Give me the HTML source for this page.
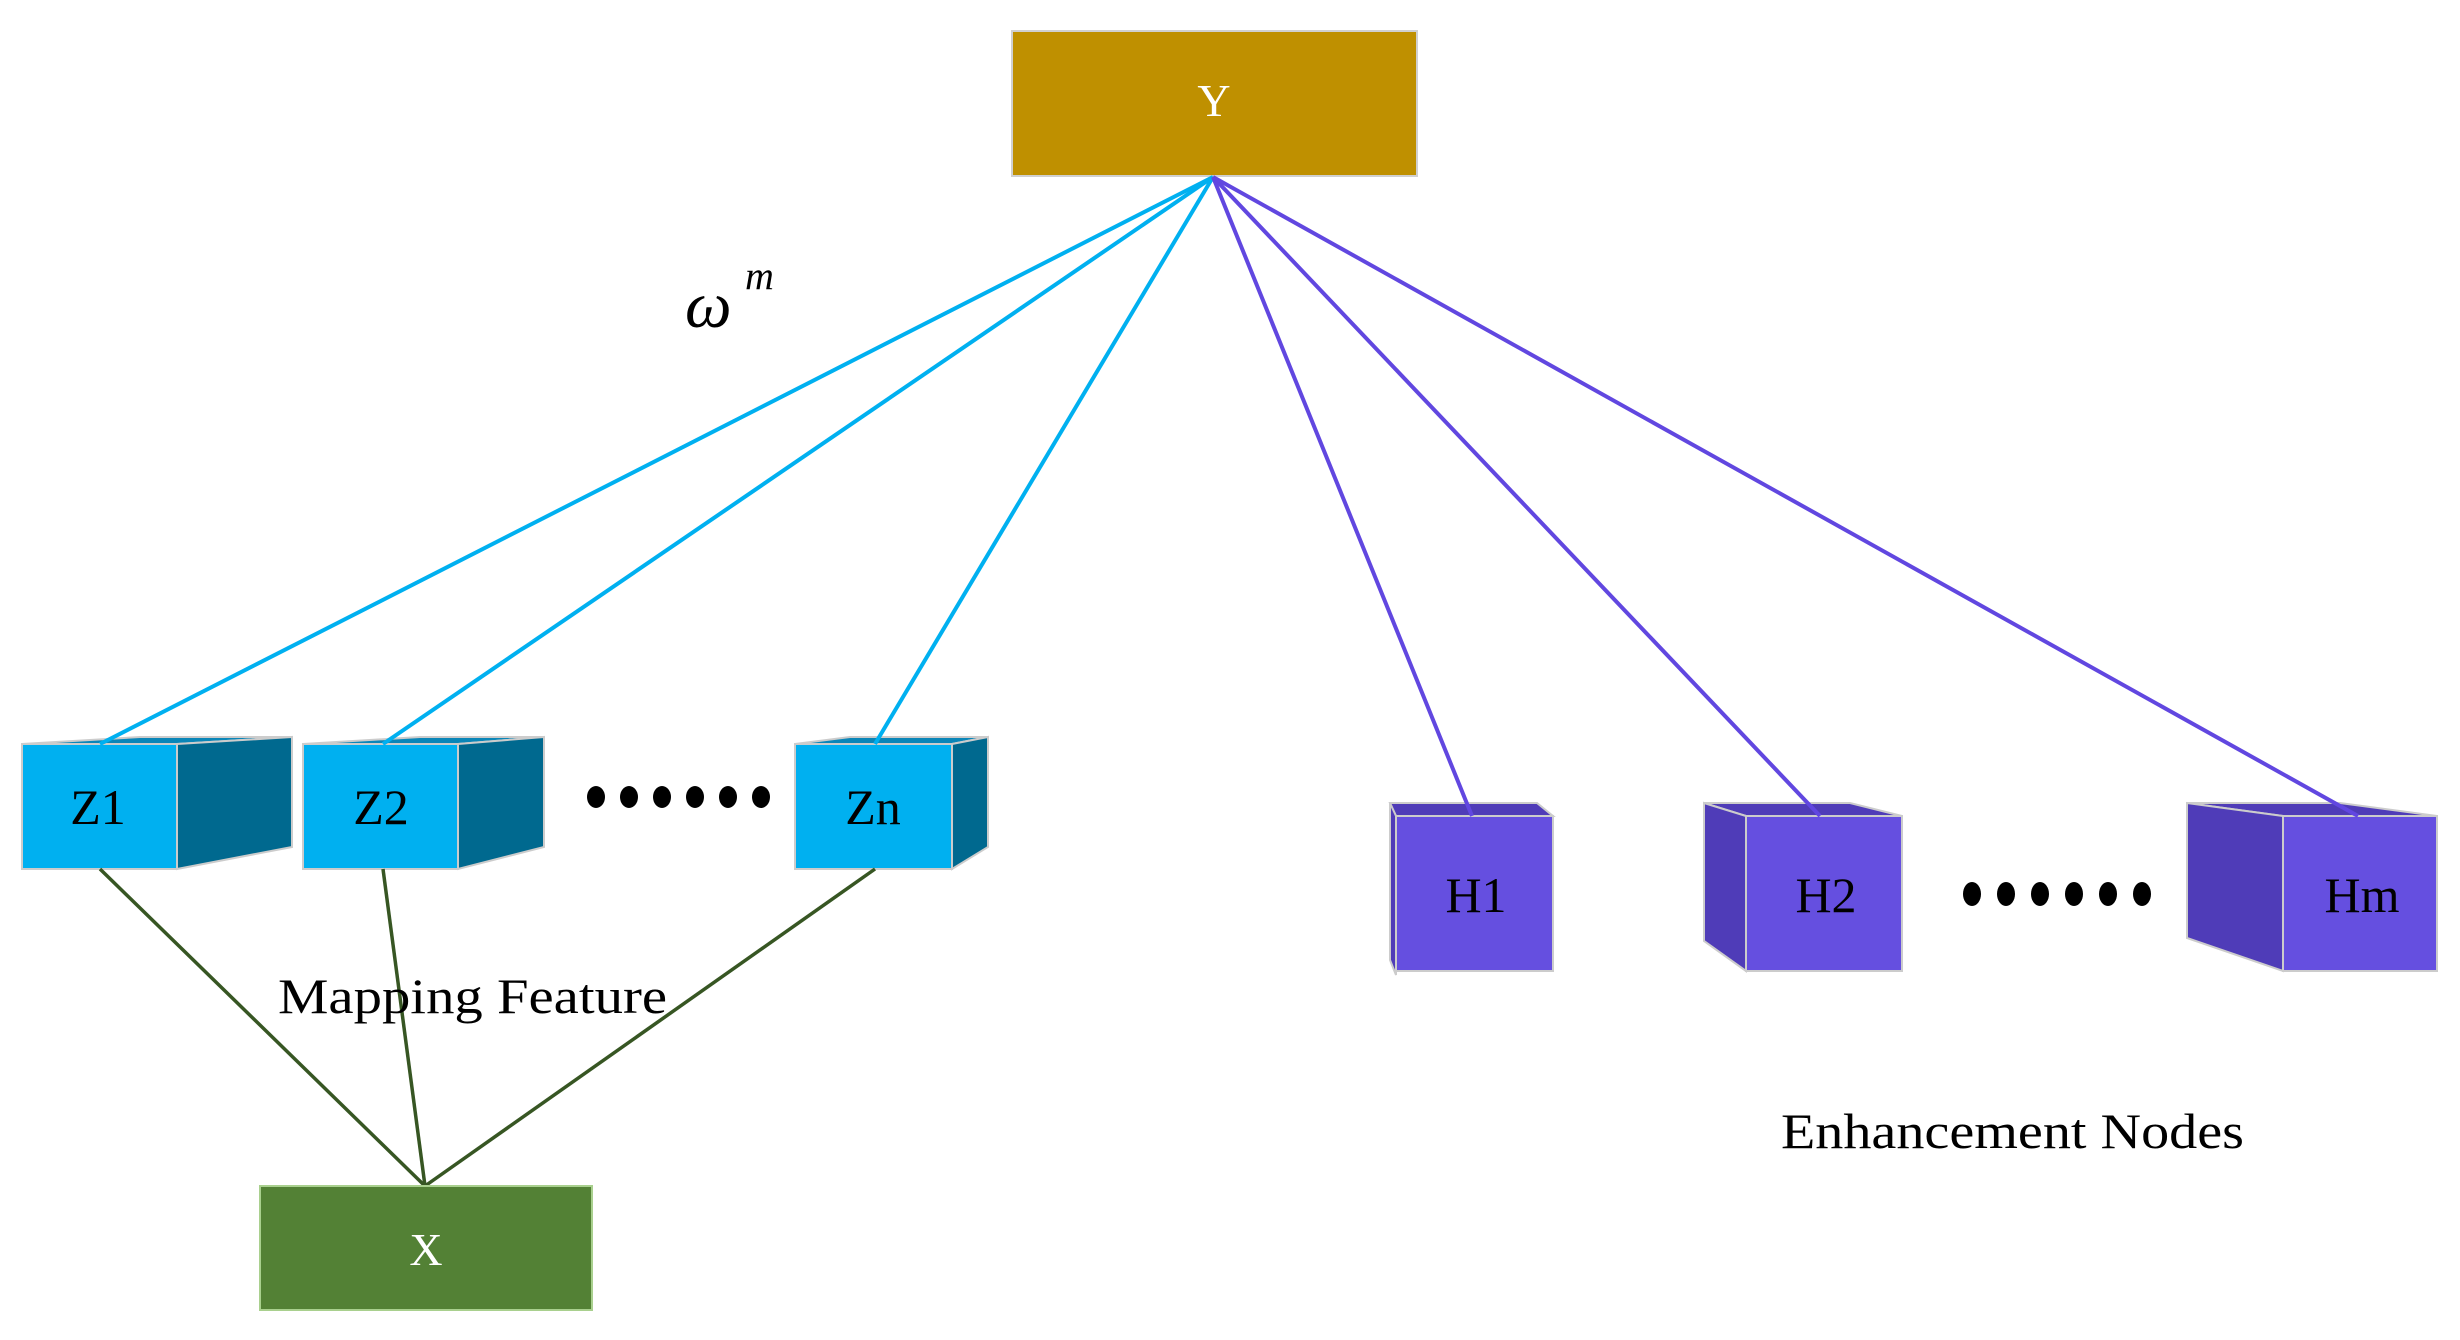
<!DOCTYPE html>
<html><head><meta charset="utf-8"><style>
html,body{margin:0;padding:0;background:#fff;}
svg{display:block;}
text{font-family:"Liberation Serif",serif;}
</style></head><body>
<svg width="2460" height="1340" viewBox="0 0 2460 1340" xmlns="http://www.w3.org/2000/svg">
<!-- Y box -->
<rect x="1012" y="31" width="405" height="145" fill="#bf9000" stroke="#d0d0d0" stroke-width="2"/>
<text x="1214" y="116" font-size="46" fill="#fff" text-anchor="middle">Y</text>

<!-- Z cubes -->
<g stroke="#cccccc" stroke-width="2">
<polygon points="22,744 140,737 292,737 177,744" fill="#0a86b8"/>
<polygon points="177,744 292,737 292,847 177,869" fill="#00698f"/>
<rect x="22" y="744" width="155" height="125" fill="#00b0f0"/>

<polygon points="303,744 420,737 544,737 458,744" fill="#0a86b8"/>
<polygon points="458,744 544,737 544,847 458,869" fill="#00698f"/>
<rect x="303" y="744" width="155" height="125" fill="#00b0f0"/>

<polygon points="795,744 850,737 988,737 952,744" fill="#0a86b8"/>
<polygon points="952,744 988,737 988,847 952,869" fill="#00698f"/>
<rect x="795" y="744" width="157" height="125" fill="#00b0f0"/>
</g>
<text x="98" y="824" font-size="50" text-anchor="middle">Z1</text>
<text x="381" y="824" font-size="50" text-anchor="middle">Z2</text>
<text x="873" y="824" font-size="50" text-anchor="middle">Zn</text>

<!-- H cubes -->
<g stroke="#cccccc" stroke-width="2">
<polygon points="1390,803 1537,803 1553,816 1396,816" fill="#4f3cb8"/>
<polygon points="1390,803 1396,816 1396,975 1390,960" fill="#4f3cb8"/>
<rect x="1396" y="816" width="157" height="155" fill="#654fe0"/>

<polygon points="1704,803 1850,803 1902,816 1746,816" fill="#4f3cb8"/>
<polygon points="1704,803 1746,816 1746,971 1704,941" fill="#4f3cb8"/>
<rect x="1746" y="816" width="156" height="155" fill="#654fe0"/>

<polygon points="2187,803 2340,803 2437,816 2283,816" fill="#4f3cb8"/>
<polygon points="2187,803 2283,816 2283,971 2187,938" fill="#4f3cb8"/>
<rect x="2283" y="816" width="154" height="155" fill="#654fe0"/>
</g>
<text x="1476" y="912" font-size="50" text-anchor="middle">H1</text>
<text x="1826" y="912" font-size="50" text-anchor="middle">H2</text>
<text x="2362" y="912" font-size="50" text-anchor="middle">Hm</text>

<!-- dots -->
<g fill="#000">
<ellipse cx="596" cy="797" rx="9" ry="11"/><ellipse cx="629" cy="797" rx="9" ry="11"/><ellipse cx="662" cy="797" rx="9" ry="11"/>
<ellipse cx="695" cy="797" rx="9" ry="11"/><ellipse cx="728" cy="797" rx="9" ry="11"/><ellipse cx="761" cy="797" rx="9" ry="11"/>
<ellipse cx="1972" cy="894" rx="9" ry="12"/><ellipse cx="2006" cy="894" rx="9" ry="12"/><ellipse cx="2040" cy="894" rx="9" ry="12"/>
<ellipse cx="2074" cy="894" rx="9" ry="12"/><ellipse cx="2108" cy="894" rx="9" ry="12"/><ellipse cx="2142" cy="894" rx="9" ry="12"/>
</g>

<!-- connectors -->
<g stroke="#00b0f0" stroke-width="4">
<line x1="1213" y1="177" x2="100" y2="744"/>
<line x1="1213" y1="177" x2="383" y2="744"/>
<line x1="1213" y1="177" x2="875" y2="744"/>
</g>
<g stroke="#6147e0" stroke-width="4">
<line x1="1213" y1="177" x2="1472" y2="816"/>
<line x1="1213" y1="177" x2="1820" y2="816"/>
<line x1="1213" y1="177" x2="2358" y2="816"/>
</g>
<g stroke="#375623" stroke-width="3.5">
<line x1="100" y1="869" x2="425" y2="1186"/>
<line x1="383" y1="869" x2="425" y2="1186"/>
<line x1="875" y1="869" x2="425" y2="1186"/>
</g>

<!-- X box -->
<rect x="260" y="1186" width="332" height="124" fill="#538135" stroke="#a9d08e" stroke-width="2"/>
<text x="426" y="1265" font-size="46" fill="#fff" text-anchor="middle">X</text>

<!-- labels -->
<text x="278" y="1013" font-size="50" textLength="389" lengthAdjust="spacingAndGlyphs">Mapping Feature</text>
<text x="1781" y="1148" font-size="50" textLength="463" lengthAdjust="spacingAndGlyphs">Enhancement Nodes</text>
<text x="685" y="327" font-size="66" font-style="italic">ω</text>
<text x="745" y="289" font-size="40" font-style="italic">m</text>
</svg>
</body></html>
